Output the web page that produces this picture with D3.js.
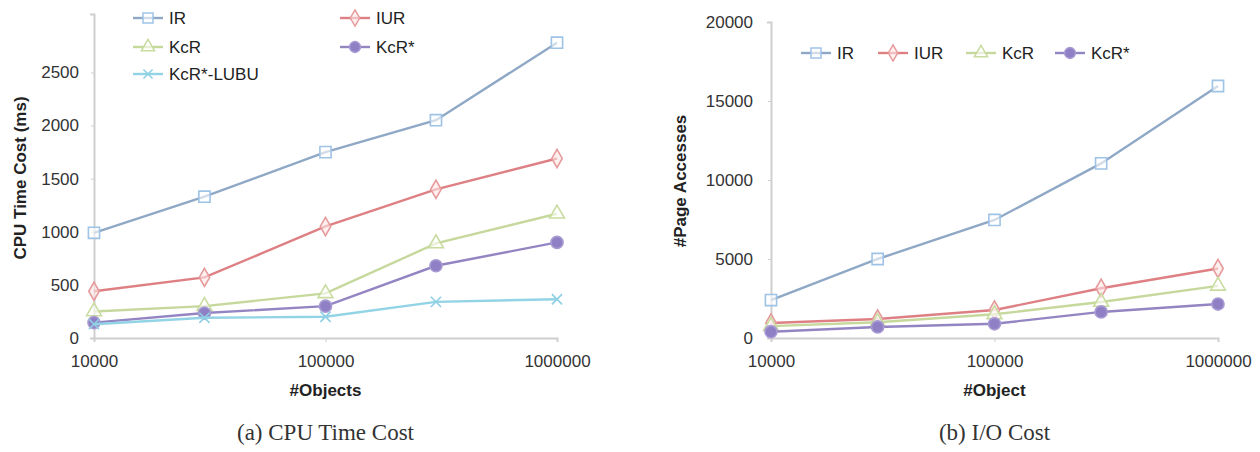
<!DOCTYPE html>
<html>
<head>
<meta charset="utf-8">
<script src="https://cdn.jsdelivr.net/npm/d3@7"></script>
<style>
  body { margin: 0; background: #fff; }
  svg text { font-family: "Liberation Sans", Arial, sans-serif; fill: #222; }
  .tick text { font-size: 17px; fill: #333; }
  .axis-title { font-size: 17px; font-weight: bold; }
  .legend text { font-size: 17px; }
  .caption { font-family: "Liberation Serif", "Times New Roman", serif !important; font-size: 23px; fill: #333 !important; }
</style>
</head>
<body>
<svg id="chart" width="1260" height="452"></svg>
<script>
// x values (number of objects)
const objects = [10000, 30000, 100000, 300000, 1000000];
const xTicks = [10000, 100000, 1000000];
const seriesNames = ["IR", "IUR", "KcR", "KcR*", "KcR*-LUBU"];

// (a) CPU time cost (ms)
const cpuIR = [990, 1330, 1750, 2050, 2780];
const cpuIUR = [440, 570, 1050, 1400, 1690];
const cpuKcR = [250, 300, 420, 890, 1170];
const cpuKcRStar = [145, 235, 300, 680, 900];
const cpuLUBU = [130, 190, 200, 340, 365];
const cpuTicks = [0, 500, 1000, 1500, 2000, 2500];

// (b) I/O cost (#page accesses)
const ioIR = [2400, 5000, 7470, 11050, 15950];
const ioIUR = [950, 1200, 1770, 3150, 4400];
const ioKcR = [750, 1000, 1500, 2280, 3300];
const ioKcRStar = [400, 700, 900, 1650, 2150];
const ioTicks = [0, 5000, 10000, 15000, 20000];

const styles = {
  "IR": { line: "#8ea8c6", mark: "#9ec3e6", fill: "rgba(255,255,255,0.6)", sym: d3.symbolSquare, size: 125 },
  "IUR": { line: "#de8083", mark: "#e69a9c", fill: "rgba(255,230,230,0.6)", sym: d3.symbolDiamond, size: 95 },
  "KcR": { line: "#c6d89c", mark: "#c9dca0", fill: "rgba(255,255,255,0.6)", sym: d3.symbolTriangle, size: 95 },
  "KcR*": { line: "#9385c2", mark: "#a89ad2", fill: "#8f80c6", sym: d3.symbolCircle, size: 115 },
  "KcR*-LUBU": { line: "#93d3e6", mark: "#8fcfe3", fill: "none", sym: d3.symbolTimes, size: 70 },
};

const svg = d3.select("#chart");

function drawPanel(cfg) {
  const g = svg.append("g");
  const x = d3.scaleLog().domain([10000, 1000000]).range([cfg.left, cfg.right]);
  const y = d3.scaleLinear().domain(cfg.yDomain).range([cfg.bottom, cfg.top]);

  const yAxis = g.append("g")
    .attr("transform", `translate(${cfg.left},0)`)
    .call(d3.axisLeft(y).tickValues(cfg.yTicks).tickSize(4).tickPadding(cfg.yPad).tickFormat(d3.format("d")));
  const xAxis = g.append("g")
    .attr("transform", `translate(0,${cfg.bottom})`)
    .call(d3.axisBottom(x).tickValues(xTicks).tickSize(4).tickPadding(13).tickFormat(d3.format("d")));
  [yAxis, xAxis].forEach((a) => {
    a.select(".domain").attr("stroke", "#cfcfcf").attr("stroke-width", 2);
    a.selectAll(".tick line").attr("stroke", "#cfcfcf");
  });
  yAxis.selectAll(".tick line").attr("x1", 0).attr("x2", -3);

  g.append("text")
    .attr("class", "axis-title")
    .attr("x", (cfg.left + cfg.right) / 2)
    .attr("y", cfg.bottom + 58)
    .attr("text-anchor", "middle")
    .text(cfg.xTitle);

  g.append("text")
    .attr("class", "axis-title")
    .attr("transform", `translate(${cfg.yTitleX},${cfg.yTitleY}) rotate(-90)`)
    .attr("text-anchor", "middle")
    .attr("dy", "0.36em")
    .text(cfg.yTitle);

  g.append("text")
    .attr("class", "caption")
    .attr("x", (cfg.left + cfg.right) / 2)
    .attr("y", cfg.bottom + 102)
    .attr("text-anchor", "middle")
    .text(cfg.caption);

  const lineGen = d3.line().x((d) => x(d.x)).y((d) => y(d.y));

  cfg.series.forEach((s) => {
    const st = styles[s.name];
    const pts = objects.map((o, i) => ({ x: o, y: s.values[i] }));
    g.append("path")
      .attr("d", lineGen(pts))
      .attr("fill", "none")
      .attr("stroke", st.line)
      .attr("stroke-width", 2.4);
    g.selectAll(null)
      .data(pts)
      .join("path")
      .attr("transform", (d) => `translate(${x(d.x)},${y(d.y)})`)
      .attr("d", d3.symbol().type(st.sym).size(st.size))
      .attr("fill", st.fill)
      .attr("stroke", st.mark)
      .attr("stroke-width", 1.6);
  });

  // legend
  const leg = g.append("g").attr("class", "legend");
  cfg.legend.forEach((l) => {
    const st = styles[l.name];
    const item = leg.append("g").attr("transform", `translate(${l.x},${l.y})`);
    item.append("line")
      .attr("x1", 0).attr("x2", 30)
      .attr("stroke", st.line).attr("stroke-width", 2.4);
    item.append("path")
      .attr("transform", "translate(15,0)")
      .attr("d", d3.symbol().type(st.sym).size(st.size * 0.8))
      .attr("fill", st.fill)
      .attr("stroke", st.mark)
      .attr("stroke-width", 1.5);
    item.append("text")
      .attr("x", 36)
      .attr("dy", "0.36em")
      .text(l.name);
  });
}

drawPanel({
  left: 94, right: 557, top: 14, bottom: 338, yPad: 11,
  yDomain: [0, 3050], yTicks: cpuTicks,
  xTitle: "#Objects", yTitle: "CPU Time Cost (ms)",
  yTitleX: 20, yTitleY: 178,
  caption: "(a) CPU Time Cost",
  series: [
    { name: "IR", values: cpuIR },
    { name: "IUR", values: cpuIUR },
    { name: "KcR", values: cpuKcR },
    { name: "KcR*", values: cpuKcRStar },
    { name: "KcR*-LUBU", values: cpuLUBU },
  ],
  legend: [
    { name: "IR", x: 133, y: 18 },
    { name: "IUR", x: 340, y: 18 },
    { name: "KcR", x: 133, y: 47 },
    { name: "KcR*", x: 340, y: 47 },
    { name: "KcR*-LUBU", x: 133, y: 74 },
  ],
});

drawPanel({
  left: 771, right: 1218, top: 22, bottom: 338, yPad: 14,
  yDomain: [0, 20000], yTicks: ioTicks,
  xTitle: "#Object", yTitle: "#Page Accesses",
  yTitleX: 680, yTitleY: 181,
  caption: "(b) I/O Cost",
  series: [
    { name: "IR", values: ioIR },
    { name: "IUR", values: ioIUR },
    { name: "KcR", values: ioKcR },
    { name: "KcR*", values: ioKcRStar },
  ],
  legend: [
    { name: "IR", x: 801, y: 53 },
    { name: "IUR", x: 878, y: 53 },
    { name: "KcR", x: 966, y: 53 },
    { name: "KcR*", x: 1055, y: 53 },
  ],
});
</script>
</body>
</html>
